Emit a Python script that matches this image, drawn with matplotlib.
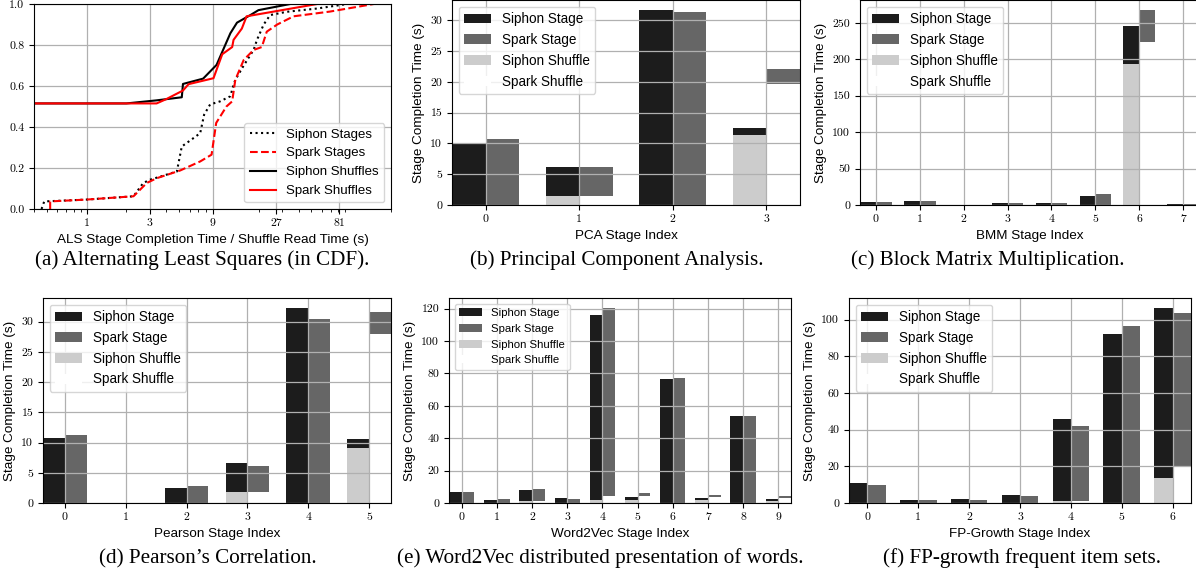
import numpy as np
import matplotlib
matplotlib.use('Agg')
from matplotlib import pyplot as plt
from matplotlib.ticker import NullFormatter

plt.rcParams['font.family'] = ['Liberation Sans', 'DejaVu Sans']
plt.rcParams['axes.unicode_minus'] = False

# (a) ALS CDF curves (x in seconds, y = CDF)
siphon_stage_x = [0.456, 0.478, 1.0, 2.26, 2.68, 3.02, 4.81, 5.24, 6.24, 7.22, 7.73, 8.58,
                  10.2, 12.2, 12.9, 13.3, 15.4, 18.3, 19.4, 21.8, 24.4, 32.6, 55.3, 93.2]
siphon_stage_y = [0.0, 0.037, 0.046, 0.062, 0.127, 0.143, 0.183, 0.305, 0.34, 0.37, 0.46, 0.51,
                  0.525, 0.55, 0.605, 0.63, 0.70, 0.776, 0.825, 0.90, 0.946, 0.962, 0.978, 1.0]
spark_stage_x = [0.53, 0.53, 1.0, 2.26, 2.85, 3.38, 5.1, 7.22, 8.8, 9.54, 10.2, 11.4, 12.6,
                 13.3, 15.4, 18.3, 21.1, 23.0, 27.6, 36.7, 69.0, 148]
spark_stage_y = [0.0, 0.037, 0.046, 0.062, 0.127, 0.15, 0.188, 0.232, 0.265, 0.42, 0.45, 0.50,
                 0.525, 0.63, 0.727, 0.776, 0.79, 0.865, 0.90, 0.94, 0.963, 1.0]
siphon_shuf_x = [0.3, 2.0, 3.38, 5.24, 5.35, 7.6, 9.6, 12.2, 13.7, 17.3, 19.9, 34.6]
siphon_shuf_y = [0.515, 0.515, 0.53, 0.545, 0.61, 0.636, 0.703, 0.857, 0.909, 0.946, 0.97, 1.0]
spark_shuf_x = [0.3, 3.38, 4.0, 5.35, 5.9, 9.1, 10.6, 12.6, 12.9, 14.9, 16.2, 55.3]
spark_shuf_y = [0.515, 0.515, 0.536, 0.578, 0.609, 0.638, 0.755, 0.79, 0.825, 0.88, 0.94, 1.0]

# (b) PCA: stage totals and shuffle parts (s)
pca_sip_stage = [10.0, 6.2, 31.7, 12.5]
pca_sip_shuf = [0, 1.5, 0, 11.3]
pca_spk_stage = [10.7, 6.2, 31.3, 22.15]
pca_spk_shuf = [0, 1.5, 0, 19.7]

# (c) BMM
bmm_sip_stage = [4.8, 6.0, 0.4, 2.2, 3.4, 11.8, 246, 1.8]
bmm_sip_shuf = [0, 0, 0, 0, 0, 0, 193, 0]
bmm_spk_stage = [4.8, 6.0, 0.4, 2.2, 3.4, 14.5, 268, 1.8]
bmm_spk_shuf = [0, 0, 0, 0, 0, 0, 224, 0]

# (d) Pearson
prs_sip_stage = [10.7, 0, 2.5, 6.6, 32.3, 10.6]
prs_sip_shuf = [0, 0, 0, 1.85, 0, 9.15]
prs_spk_stage = [11.25, 0, 2.85, 6.15, 30.5, 31.65]
prs_spk_shuf = [0, 0, 0, 1.75, 0, 27.9]

# (e) Word2Vec
w2v_sip_stage = [7.0, 2.0, 8.2, 3.3, 115.9, 3.9, 76.5, 3.3, 53.7, 2.5]
w2v_sip_shuf = [0, 0, 1.4, 0, 2.0, 2.0, 0, 2.0, 0, 1.4]
w2v_spk_stage = [7.0, 2.7, 8.8, 2.7, 120.6, 6.2, 77.1, 5.1, 53.7, 4.5]
w2v_spk_shuf = [0, 0, 1.4, 0, 4.1, 4.5, 0, 3.5, 0, 3.1]

# (f) FP-Growth
fpg_sip_stage = [11.0, 1.8, 2.35, 4.5, 45.75, 92.4, 106.5]
fpg_sip_shuf = [0, 0, 0, 0, 1.3, 0, 13.9]
fpg_spk_stage = [9.9, 1.8, 1.8, 4.0, 42.0, 96.7, 103.8]
fpg_spk_shuf = [0, 0, 0, 0, 1.3, 0, 20.1]

W, H = 1196, 571
fig = plt.figure(figsize=(W / 100, H / 100), dpi=100)


def px_axes(l, t, r, b):
    return fig.add_axes([l / W, 1 - b / H, (r - l) / W, (b - t) / H])


def style(ax):
    ax.grid(True, color='#b0b0b0', linewidth=0.9)
    ax.tick_params(labelsize=8.5, labelfontfamily='cmr10')


LAB = 9.7
w = 0.36


def bar_panel(ax, sip_stage, sip_shuf, spk_stage, spk_shuf, xlabel, legsize):
    x = np.arange(len(sip_stage))
    sip_stage = np.array(sip_stage)
    spk_stage = np.array(spk_stage)
    sip_shuf = np.array(sip_shuf)
    spk_shuf = np.array(spk_shuf)
    ax.bar(x - w / 2, sip_stage - sip_shuf, w, bottom=sip_shuf, color='#1c1c1c', label='Siphon Stage')
    ax.bar(x + w / 2, spk_stage - spk_shuf, w, bottom=spk_shuf, color='#666666', label='Spark Stage')
    ax.bar(x - w / 2, sip_shuf, w, color='#cccccc', label='Siphon Shuffle')
    ax.bar(x + w / 2, spk_shuf, w, color='white', label='Spark Shuffle')
    ax.set_xticks(x)
    ax.set_xlim(-w, len(x) - 1 + w)
    ax.set_xlabel(xlabel, fontsize=LAB)
    ax.set_ylabel('Stage Completion Time (s)', fontsize=LAB)
    ax.legend(loc='upper left', fontsize=legsize)
    style(ax)


# (a)
ax = px_axes(34, 4, 391, 209)
ax.plot(siphon_stage_x, siphon_stage_y, 'k:', lw=1.5, label='Siphon Stages')
ax.plot(spark_stage_x, spark_stage_y, '--', color='red', lw=1.5, label='Spark Stages')
ax.plot(siphon_shuf_x, siphon_shuf_y, 'k-', lw=1.5, label='Siphon Shuffles')
ax.plot(spark_shuf_x, spark_shuf_y, '-', color='red', lw=1.5, label='Spark Shuffles')
ax.set_xscale('log')
ax.set_xlim(0.4, 200)
ax.set_ylim(0, 1.0)
ax.set_xticks([1, 3, 9, 27, 81], labels=['1', '3', '9', '27', '81'])
ax.xaxis.set_minor_formatter(NullFormatter())
ax.set_xlabel('ALS Stage Completion Time / Shuffle Read Time (s)', fontsize=LAB)
ax.legend(loc='lower right', fontsize=9.5)
style(ax)

bar_panel(px_axes(452, 0, 800, 205), pca_sip_stage, pca_sip_shuf, pca_spk_stage, pca_spk_shuf,
          'PCA Stage Index', 9.75)
bar_panel(px_axes(860, 0, 1199, 205), bmm_sip_stage, bmm_sip_shuf, bmm_spk_stage, bmm_spk_shuf,
          'BMM Stage Index', 9.75)
bar_panel(px_axes(43, 298, 391, 503), prs_sip_stage, prs_sip_shuf, prs_spk_stage, prs_spk_shuf,
          'Pearson Stage Index', 9.75)
bar_panel(px_axes(449, 298, 791, 503), w2v_sip_stage, w2v_sip_shuf, w2v_spk_stage, w2v_spk_shuf,
          'Word2Vec Stage Index', 8.2)
bar_panel(px_axes(849, 298, 1191, 503), fpg_sip_stage, fpg_sip_shuf, fpg_spk_stage, fpg_spk_shuf,
          'FP-Growth Stage Index', 9.75)

captions = [
    (202, 265, '(a) Alternating Least Squares (in CDF).'),
    (617, 265, '(b) Principal Component Analysis.'),
    (988, 265, '(c) Block Matrix Multiplication.'),
    (208, 563, '(d) Pearson\u2019s Correlation.'),
    (600, 563, '(e) Word2Vec distributed presentation of words.'),
    (1022, 563, '(f) FP-growth frequent item sets.'),
]
for cx, cy, txt in captions:
    fig.text(cx / W, 1 - cy / H, txt, ha='center', va='baseline',
             fontsize=15.2, family=['Liberation Serif', 'DejaVu Serif'])

fig.savefig('out.png', dpi=100)
